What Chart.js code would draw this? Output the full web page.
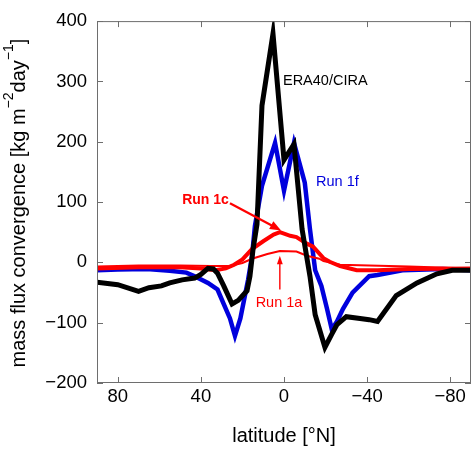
<!DOCTYPE html>
<html lang="en">
<head>
<meta charset="UTF-8">
<title>Mass flux convergence</title>
<script src="https://cdn.jsdelivr.net/npm/chart.js"></script>
<style>
  body { margin: 0; background: #fff; }
  canvas { display: block; }
</style>
</head>
<body>
<canvas id="flux" width="474" height="450"></canvas>
<script>
// tick labels
const latTicks = [80, 40, 0, -40, -80];
const fluxTicks = [-200, -100, 0, 100, 200, 300, 400];

// ERA40/CIRA (black)
const eraLat = [90, 80, 70, 65, 59, 55, 49, 43, 40, 36.6, 34, 32, 29, 25, 22, 17.8, 16.4, 15, 13, 10.6, 5.3, 0, -4.8, -8.7, -12.5, -15, -19.7, -23, -25.5, -30, -36.6, -41, -45, -54, -64, -73.6, -81, -90];
const eraVal = [-33, -37, -48, -42, -39, -34, -29, -26, -20, -10, -11, -18, -39, -69, -63, -47, -23, 19, 63, 260, 379, 170, 196, 55, -23, -87, -141, -119, -103, -90, -93, -95, -98, -55, -34, -19, -13, -13];

// Run 1f (blue)
const r1fLat = [90, 80, 66, 55, 47, 43, 36.6, 32, 29.4, 26, 23.6, 21, 18.8, 17.3, 15.4, 14, 10.6, 4.3, 0, -4.8, -10, -12.5, -15, -18, -20.7, -23, -25.5, -28.4, -33, -41, -45, -57, -76.5, -90];
const r1fVal = [-13, -12, -11, -14, -17, -23, -34, -45, -66, -93, -122, -93, -55, -29, 10, 60, 127, 198, 119, 198, 132, 55, -13, -39, -77, -111, -98, -77, -50, -23, -21, -13, -11, -13];

// Run 1c (thick red)
const r1cLat = [90, 70, 50, 40, 33, 28, 24, 20, 15.4, 10, 5, 2, -3, -6, -11, -14, -19, -22, -27, -35, -45, -60, -90];
const r1cVal = [-10, -8, -8, -10, -13, -10, -4, 5, 22, 35, 46, 50, 44, 42, 31, 26, 7, 1, -6, -13, -13, -11, -10];

// Run 1a (thin red)
const r1aLat = [90, 70, 50, 35, 26, 20, 15.4, 8, 2, -6, -11, -17, -19, -27, -41, -60, -90];
const r1aVal = [-7, -5, -5, -6, -6, -1, 6, 14, 19, 18, 11, 6, 2, -4, -5, -7, -10];

const FONT = 'Liberation Sans, Arial, Helvetica, sans-serif';

function pts(lat, val) {
  return lat.map((l, i) => ({ x: l, y: val[i] }));
}

function line(label, lat, val, color, width, order) {
  return {
    label, data: pts(lat, val), borderColor: color, borderWidth: width,
    pointRadius: 0, tension: 0, fill: false, order, borderJoinStyle: 'miter'
  };
}

// box round the plot with inward ticks on all four sides
const frame = {
  id: 'frame',
  afterDatasetsDraw(chart) {
    const { ctx, chartArea: a, scales: { x, y } } = chart;
    ctx.save();
    ctx.strokeStyle = '#6e6e6e';
    ctx.lineWidth = 1;
    ctx.strokeRect(a.left + 0.5, a.top + 0.5, a.right - a.left - 1, a.bottom - a.top - 1);
    ctx.beginPath();
    latTicks.forEach(v => {
      const px = Math.round(x.getPixelForValue(v)) + 0.5;
      ctx.moveTo(px, a.bottom); ctx.lineTo(px, a.bottom - 6);
      ctx.moveTo(px, a.top); ctx.lineTo(px, a.top + 6);
    });
    fluxTicks.forEach(v => {
      const py = Math.round(y.getPixelForValue(v)) + 0.5;
      ctx.moveTo(a.left, py); ctx.lineTo(a.left + 6, py);
      ctx.moveTo(a.right, py); ctx.lineTo(a.right - 6, py);
    });
    ctx.stroke();
    ctx.restore();
  }
};

// y title with real superscripts for the units
const yTitle = {
  id: 'yTitle',
  afterDraw(chart) {
    const { ctx, chartArea: a } = chart;
    const parts = [
      ['mass flux convergence [kg m', false],
      ['\u22122', true],
      ['day', false],
      ['\u22121', true],
      [']', false]
    ];
    const main = '20px ' + FONT, sup = '14px ' + FONT;
    ctx.save();
    ctx.fillStyle = '#000';
    ctx.textBaseline = 'alphabetic';
    ctx.textAlign = 'left';
    let total = 0;
    parts.forEach(([t, s]) => { ctx.font = s ? sup : main; total += ctx.measureText(t).width; });
    ctx.translate(25, (a.top + a.bottom) / 2 + 1);
    ctx.rotate(-Math.PI / 2);
    let cx = -total / 2;
    parts.forEach(([t, s]) => {
      ctx.font = s ? sup : main;
      ctx.fillText(t, cx, s ? -12 : 0);
      cx += ctx.measureText(t).width;
    });
    ctx.restore();
  }
};

function arrow(ctx, x0, y0, x1, y1, w, head, spread) {
  const ang = Math.atan2(y1 - y0, x1 - x0);
  ctx.lineWidth = w;
  ctx.beginPath();
  ctx.moveTo(x0, y0);
  ctx.lineTo(x1 - Math.cos(ang) * head * 0.7, y1 - Math.sin(ang) * head * 0.7);
  ctx.stroke();
  ctx.beginPath();
  ctx.moveTo(x1, y1);
  ctx.lineTo(x1 - head * Math.cos(ang - spread), y1 - head * Math.sin(ang - spread));
  ctx.lineTo(x1 - head * Math.cos(ang + spread), y1 - head * Math.sin(ang + spread));
  ctx.closePath();
  ctx.fill();
}

// curve labels and arrows, placed in data units
const notes = {
  id: 'notes',
  afterDatasetsDraw(chart) {
    const { ctx, scales: { x, y } } = chart;
    const X = v => x.getPixelForValue(v), Y = v => y.getPixelForValue(v);
    ctx.save();
    ctx.textBaseline = 'middle';

    ctx.fillStyle = '#000';
    ctx.font = '14.5px ' + FONT;
    ctx.textAlign = 'left';
    ctx.fillText('ERA40/CIRA', X(0.5), Y(301));

    ctx.fillStyle = '#0000dd';
    ctx.fillText('Run 1f', X(-15.4), Y(133));

    ctx.fillStyle = '#ff0000';
    ctx.strokeStyle = '#ff0000';
    ctx.font = 'bold 14px ' + FONT;
    ctx.fillText('Run 1c', X(49), Y(103));
    arrow(ctx, X(26), Y(98), X(1.4), Y(53), 2.2, 12, 0.38);

    ctx.font = '14.5px ' + FONT;
    ctx.textAlign = 'center';
    ctx.fillText('Run 1a', X(2.4), Y(-68));
    arrow(ctx, X(2), Y(-45), X(2), Y(11), 1.4, 9, 0.33);
    ctx.restore();
  }
};

new Chart(document.getElementById('flux'), {
  type: 'line',
  data: {
    datasets: [
      line('ERA40/CIRA', eraLat, eraVal, '#000000', 5, 1),
      line('Run 1c', r1cLat, r1cVal, '#ff0000', 4, 2),
      line('Run 1a', r1aLat, r1aVal, '#ff0000', 2, 3),
      line('Run 1f', r1fLat, r1fVal, '#0000dd', 4.5, 4)
    ]
  },
  options: {
    responsive: false,
    animation: false,
    layout: { padding: { top: 10, right: 3, left: 0, bottom: 0 } },
    plugins: { legend: { display: false }, tooltip: { enabled: false } },
    scales: {
      x: {
        type: 'linear', reverse: true, min: -90, max: 90,
        afterBuildTicks: s => { s.ticks = latTicks.map(v => ({ value: v })); },
        afterFit: s => { s.height = 67; },
        grid: { display: false, drawTicks: false },
        border: { display: false },
        ticks: {
          color: '#000', padding: 3, font: { family: FONT, size: 18.5 },
          callback: v => String(v).replace('-', '\u2212')
        },
        title: {
          display: true, text: 'latitude [°N]', color: '#000',
          font: { family: FONT, size: 20 }, padding: { top: 0, bottom: 2 }
        }
      },
      y: {
        type: 'linear', min: -200, max: 400,
        afterBuildTicks: s => { s.ticks = fluxTicks.map(v => ({ value: v })); },
        afterFit: s => { s.width = 97; },
        grid: { display: false, drawTicks: false },
        border: { display: false },
        ticks: {
          color: '#000', padding: 10, font: { family: FONT, size: 18.5 },
          callback: v => String(v).replace('-', '\u2212')
        },
        title: { display: false }
      }
    }
  },
  plugins: [frame, notes, yTitle]
});
</script>
</body>
</html>
